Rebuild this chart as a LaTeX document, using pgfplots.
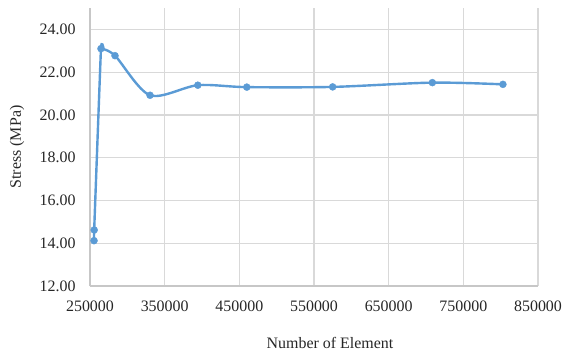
\documentclass[border=0pt]{standalone}
\usepackage{fontspec}
\setmainfont{Liberation Serif}
\usepackage{pgfplots}
\pgfplotsset{compat=1.18}
\definecolor{exblue}{HTML}{5B9BD5}
\definecolor{gridgray}{HTML}{D9D9D9}
\definecolor{txt}{HTML}{262626}
\begin{document}
\begin{tikzpicture}
\fontsize{16}{19}\selectfont
\begin{axis}[
  name=ax,
  at={(0,0)}, anchor=south west,
  scale only axis,
  width=448bp, height=278bp,
  xmin=250000, xmax=850000,
  ymin=12, ymax=25,
  xtick={250000,350000,450000,550000,650000,750000,850000},
  ytick={12,14,16,18,20,22,24},
  xticklabels={250000,350000,450000,550000,650000,750000,850000},
  yticklabels={12.00,14.00,16.00,18.00,20.00,22.00,24.00},
  scaled x ticks=false,
  grid=major,
  grid style={gridgray, line width=1.2bp},
  axis line style={draw=none},
  axis x line*=bottom, axis y line*=left,
  tick style={draw=none},
  major tick length=0pt,
  ticklabel style={font=\fontsize{16}{19}\selectfont, text=txt},
  xticklabel style={yshift=-9bp},
  yticklabel style={xshift=-9bp},
  xlabel={Number of Element},
  ylabel={Stress (MPa)},
  label style={font=\fontsize{16}{19}\selectfont, text=txt},
  xlabel style={at={(axis description cs:0.5,0)}, anchor=center, yshift=-57bp, xshift=16bp},
  ylabel style={at={(axis description cs:-0.163,0.5)}, anchor=center},
  clip=false,
]
\draw[gridgray!80!gray, line width=1.2bp] (axis cs:250000,12) -- (axis cs:850000,12);
\draw[gridgray!80!gray, line width=1.2bp] (axis cs:250000,12) -- (axis cs:250000,25);
\addplot[color=exblue, line width=2.4bp, smooth, tension=0.2, forget plot]
  coordinates {
  (255400,14.12)
  (255600,14.62)
  (264700,23.10)
  (268000,23.14)
  };
\addplot[color=exblue, line width=2.4bp, smooth, tension=0.5, forget plot]
  coordinates {
  (264700,23.10)
  (283500,22.77)
  (330400,20.92)
  (394400,21.39)
  (460000,21.30)
  (575000,21.31)
  (708500,21.51)
  (803000,21.43)
  };
\addplot[only marks, mark=*, mark size=3.5bp, mark options={fill=exblue, draw=exblue}]
  coordinates {
  (255400,14.12)
  (255600,14.62)
  (264700,23.10)
  (283500,22.77)
  (330400,20.92)
  (394400,21.39)
  (460000,21.30)
  (575000,21.31)
  (708500,21.51)
  (803000,21.43)
  };
\end{axis}
\pgfresetboundingbox
\path[use as bounding box] ([shift={(-90bp,-71bp)}]ax.south west) rectangle ([shift={(30bp,8bp)}]ax.north east);
\end{tikzpicture}
\end{document}
